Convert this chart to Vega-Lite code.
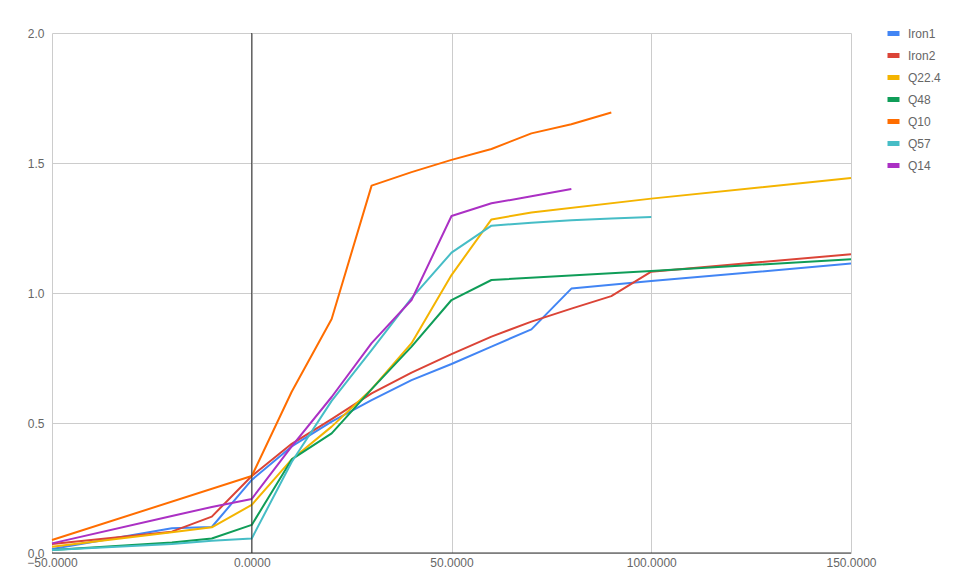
{
  "$schema": "https://vega.github.io/schema/vega-lite/v6.json",
  "width": 799,
  "height": 520,
  "autosize": {"type": "none"},
  "padding": {"left": 52, "top": 33, "right": 105, "bottom": 32},
  "background": "white",
  "config": {
    "view": {"stroke": null},
    "font": "Liberation Sans",
    "axis": {"labelFont": "Liberation Sans", "labelFontSize": 12, "labelColor": "#666666", "gridColor": "#cccccc", "gridWidth": 1, "domain": false, "ticks": false, "title": null, "labelFlush": false}
  },
  "datasets": {
    "series": [
      {"s": "Iron1", "x": -50, "y": 0.015}, {"s": "Iron1", "x": -20, "y": 0.095}, {"s": "Iron1", "x": -10, "y": 0.10}, {"s": "Iron1", "x": 0, "y": 0.281}, {"s": "Iron1", "x": 10, "y": 0.41}, {"s": "Iron1", "x": 20, "y": 0.505}, {"s": "Iron1", "x": 30, "y": 0.588}, {"s": "Iron1", "x": 40, "y": 0.665}, {"s": "Iron1", "x": 50, "y": 0.727}, {"s": "Iron1", "x": 60, "y": 0.794}, {"s": "Iron1", "x": 70, "y": 0.86}, {"s": "Iron1", "x": 80, "y": 1.017}, {"s": "Iron1", "x": 100, "y": 1.046}, {"s": "Iron1", "x": 150, "y": 1.113},
      {"s": "Iron2", "x": -50, "y": 0.035}, {"s": "Iron2", "x": -20, "y": 0.082}, {"s": "Iron2", "x": -10, "y": 0.14}, {"s": "Iron2", "x": 0, "y": 0.296}, {"s": "Iron2", "x": 10, "y": 0.42}, {"s": "Iron2", "x": 20, "y": 0.515}, {"s": "Iron2", "x": 30, "y": 0.614}, {"s": "Iron2", "x": 40, "y": 0.694}, {"s": "Iron2", "x": 50, "y": 0.765}, {"s": "Iron2", "x": 60, "y": 0.832}, {"s": "Iron2", "x": 70, "y": 0.89}, {"s": "Iron2", "x": 80, "y": 0.94}, {"s": "Iron2", "x": 90, "y": 0.988}, {"s": "Iron2", "x": 100, "y": 1.082}, {"s": "Iron2", "x": 150, "y": 1.149},
      {"s": "Q22.4", "x": -50, "y": 0.024}, {"s": "Q22.4", "x": -20, "y": 0.08}, {"s": "Q22.4", "x": -10, "y": 0.099}, {"s": "Q22.4", "x": 0, "y": 0.185}, {"s": "Q22.4", "x": 10, "y": 0.36}, {"s": "Q22.4", "x": 20, "y": 0.486}, {"s": "Q22.4", "x": 30, "y": 0.63}, {"s": "Q22.4", "x": 40, "y": 0.807}, {"s": "Q22.4", "x": 50, "y": 1.069}, {"s": "Q22.4", "x": 60, "y": 1.283}, {"s": "Q22.4", "x": 70, "y": 1.31}, {"s": "Q22.4", "x": 100, "y": 1.363}, {"s": "Q22.4", "x": 150, "y": 1.442},
      {"s": "Q48", "x": -50, "y": 0.012}, {"s": "Q48", "x": -20, "y": 0.04}, {"s": "Q48", "x": -10, "y": 0.056}, {"s": "Q48", "x": 0, "y": 0.108}, {"s": "Q48", "x": 10, "y": 0.36}, {"s": "Q48", "x": 20, "y": 0.46}, {"s": "Q48", "x": 30, "y": 0.63}, {"s": "Q48", "x": 40, "y": 0.794}, {"s": "Q48", "x": 50, "y": 0.973}, {"s": "Q48", "x": 60, "y": 1.05}, {"s": "Q48", "x": 100, "y": 1.085}, {"s": "Q48", "x": 150, "y": 1.13},
      {"s": "Q10", "x": -50, "y": 0.05}, {"s": "Q10", "x": 0, "y": 0.296}, {"s": "Q10", "x": 10, "y": 0.62}, {"s": "Q10", "x": 20, "y": 0.90}, {"s": "Q10", "x": 30, "y": 1.413}, {"s": "Q10", "x": 40, "y": 1.465}, {"s": "Q10", "x": 50, "y": 1.512}, {"s": "Q10", "x": 60, "y": 1.554}, {"s": "Q10", "x": 70, "y": 1.614}, {"s": "Q10", "x": 80, "y": 1.649}, {"s": "Q10", "x": 90, "y": 1.694},
      {"s": "Q57", "x": -50, "y": 0.012}, {"s": "Q57", "x": -20, "y": 0.035}, {"s": "Q57", "x": -10, "y": 0.047}, {"s": "Q57", "x": 0, "y": 0.056}, {"s": "Q57", "x": 10, "y": 0.35}, {"s": "Q57", "x": 20, "y": 0.585}, {"s": "Q57", "x": 30, "y": 0.78}, {"s": "Q57", "x": 40, "y": 0.98}, {"s": "Q57", "x": 50, "y": 1.155}, {"s": "Q57", "x": 60, "y": 1.259}, {"s": "Q57", "x": 70, "y": 1.27}, {"s": "Q57", "x": 80, "y": 1.28}, {"s": "Q57", "x": 90, "y": 1.287}, {"s": "Q57", "x": 100, "y": 1.292},
      {"s": "Q14", "x": -50, "y": 0.037}, {"s": "Q14", "x": -20, "y": 0.142}, {"s": "Q14", "x": -10, "y": 0.177}, {"s": "Q14", "x": 0, "y": 0.208}, {"s": "Q14", "x": 10, "y": 0.41}, {"s": "Q14", "x": 20, "y": 0.60}, {"s": "Q14", "x": 30, "y": 0.807}, {"s": "Q14", "x": 40, "y": 0.973}, {"s": "Q14", "x": 50, "y": 1.296}, {"s": "Q14", "x": 60, "y": 1.345}, {"s": "Q14", "x": 70, "y": 1.372}, {"s": "Q14", "x": 80, "y": 1.40}
    ],
    "zeroX": [{"x": 0}],
    "zeroY": [{"y": 0}]
  },
  "layer": [
    {
      "data": {"name": "series"},
      "mark": {"type": "line", "strokeWidth": 2, "strokeJoin": "round"},
      "encoding": {
        "x": {"field": "x", "type": "quantitative", "scale": {"domain": [-50, 150], "nice": false, "zero": false},
              "axis": {"values": [-50, 0, 50, 100, 150], "format": ".4f", "labelPadding": 4, "grid": true}},
        "y": {"field": "y", "type": "quantitative", "scale": {"domain": [0, 2], "nice": false},
              "axis": {"values": [0, 0.5, 1, 1.5, 2], "format": ".1f", "labelPadding": 8, "grid": true}},
        "color": {"field": "s", "type": "nominal",
          "scale": {"domain": ["Iron1", "Iron2", "Q22.4", "Q48", "Q10", "Q57", "Q14"],
                    "range": ["#4285F4", "#DB4437", "#F4B400", "#0F9D58", "#FF6D00", "#46BDC6", "#AB30C4"]},
          "legend": {"title": null, "orient": "none", "legendX": 833, "legendY": -8, "padding": 0,
                     "symbolType": "stroke", "symbolSize": 144, "symbolStrokeWidth": 5,
                     "labelFont": "Liberation Sans", "labelFontSize": 12, "labelColor": "#666666", "rowPadding": 1, "labelOffset": 6}},
        "order": {"field": "x", "type": "quantitative"}
      }
    },
    {
      "data": {"name": "zeroX"},
      "mark": {"type": "rule", "color": "#333333", "strokeWidth": 1},
      "encoding": {"x": {"field": "x", "type": "quantitative"}}
    },
    {
      "data": {"name": "zeroY"},
      "mark": {"type": "rule", "color": "#333333", "strokeWidth": 1},
      "encoding": {"y": {"field": "y", "type": "quantitative"}}
    }
  ]
}
